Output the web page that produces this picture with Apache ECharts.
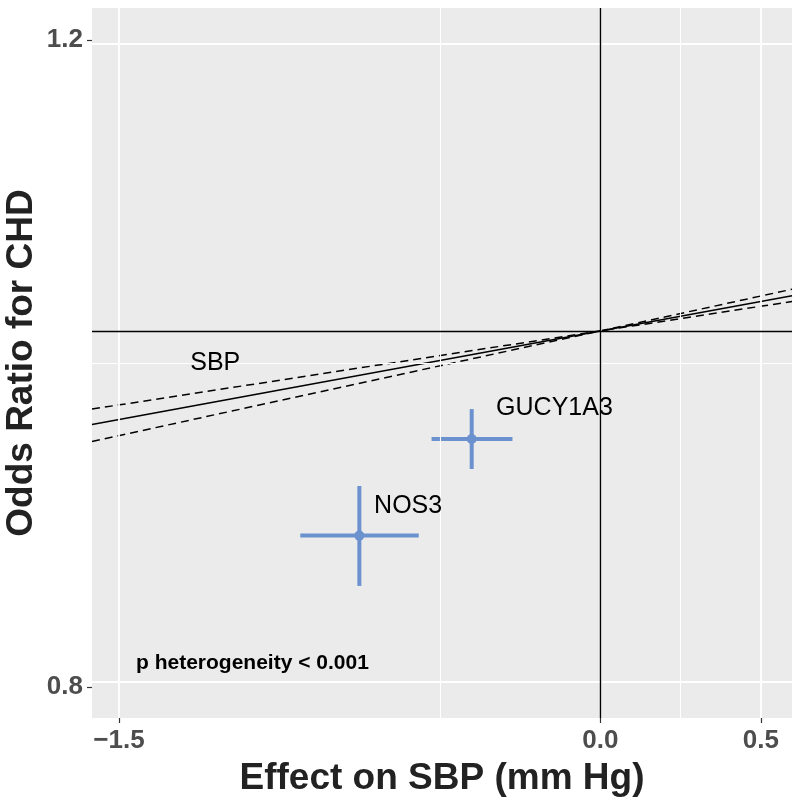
<!DOCTYPE html>
<html>
<head>
    <meta charset="utf-8">
    <title>Odds Ratio for CHD vs Effect on SBP</title>
    <script src="https://cdn.jsdelivr.net/npm/echarts@6/dist/echarts.min.js"></script>
    <style>
        html, body { margin: 0; padding: 0; background: #fff; }
        #main { width: 800px; height: 806px; }
    </style>
</head>
<body>
    <div id="main"></div>
    <script type="text/javascript">
        // gene estimates (x = effect on SBP in mm Hg, y = odds ratio)
        var geneNames = ['GUCY1A3', 'NOS3'];
        var geneSBP = [-0.401, -0.751];
        var geneSBPLow = [-0.526, -0.935];
        var geneSBPHigh = [-0.274, -0.566];
        var geneOR = [0.9345, 0.8796];
        var geneORLow = [0.9171, 0.8523];
        var geneORHigh = [0.9522, 0.9074];

        // SBP slope: odds ratio per mm Hg (estimate, lower, upper)
        var sbpORPerMmHg = [1.0377, 1.0314, 1.0447];

        // axes
        var xLimits = [-1.584, 0.597];
        var xTicks = [-1.5, 0.0, 0.5];
        var xMinorGrid = [-0.5, 0.25];
        var yLimits = [0.7846, 1.2243];
        var yTicks = [0.8, 1.2];
        var yMinorGrid = [0.9798];

        // annotations
        var noteTexts = ['SBP', 'GUCY1A3', 'NOS3', 'p heterogeneity < 0.001'];
        var noteSBP = [-1.2, -0.325, -0.705, -1.447];
        var noteOR = [0.98, 0.953, 0.896, 0.812];
        var noteAlign = ['center', 'left', 'left', 'left'];
        var noteBold = [false, false, false, true];

        var FONT = '"Liberation Sans", Arial, Helvetica, sans-serif';
        var BLUE = '#6B91CF';

        var myChart = echarts.init(document.getElementById('main'), null, { renderer: 'canvas' });

        function fmtTick(v) {
            var s = v.toFixed(1);
            return s.charAt(0) === '-' ? '\u2212' + s.slice(1) : s;
        }

        // SBP line and its CI lines go through the origin
        function slopeLine(orPerUnit) {
            var b = Math.log(orPerUnit);
            return [[xLimits[0], b * xLimits[0]], [xLimits[1], b * xLimits[1]]];
        }

        var gridLines = [];
        xTicks.forEach(function (v) { gridLines.push({ xAxis: v, lineStyle: { width: 1.8 } }); });
        xMinorGrid.forEach(function (v) { gridLines.push({ xAxis: v, lineStyle: { width: 1.1 } }); });
        yTicks.forEach(function (v) { gridLines.push({ yAxis: Math.log(v), lineStyle: { width: 1.8 } }); });
        yMinorGrid.forEach(function (v) { gridLines.push({ yAxis: Math.log(v), lineStyle: { width: 1.1 } }); });

        var geneData = geneNames.map(function (n, i) {
            return [geneSBP[i], Math.log(geneOR[i]), geneSBPLow[i], geneSBPHigh[i],
                Math.log(geneORLow[i]), Math.log(geneORHigh[i])];
        });

        var noteData = noteTexts.map(function (t, i) {
            return [noteSBP[i], Math.log(noteOR[i]), i];
        });

        var option = {
            animation: false,
            grid: {
                left: 92, right: 8, top: 8, bottom: 88,
                show: true, backgroundColor: '#EBEBEB', borderWidth: 0,
                containLabel: false,
                outerBoundsMode: 'none'
            },
            xAxis: {
                type: 'value',
                min: xLimits[0],
                max: xLimits[1],
                splitLine: { show: false },
                axisLine: { show: false, onZero: false },
                axisTick: { show: true, length: 5, customValues: xTicks, lineStyle: { color: '#333', width: 1.2 } },
                axisLabel: {
                    customValues: xTicks, margin: 10, formatter: fmtTick,
                    color: '#4D4D4D', fontSize: 26, fontWeight: 'bold', fontFamily: FONT
                },
                name: 'Effect on SBP (mm Hg)',
                nameLocation: 'middle',
                nameGap: 42,
                nameMoveOverlap: false,
                nameTextStyle: { color: '#222', fontSize: 37, fontWeight: 'bold', fontFamily: FONT }
            },
            yAxis: {
                type: 'value',
                min: Math.log(yLimits[0]),
                max: Math.log(yLimits[1]),
                splitLine: { show: false },
                axisLine: { show: false, onZero: false },
                axisTick: { show: true, length: 5, customValues: yTicks.map(Math.log), lineStyle: { color: '#333', width: 1.2 } },
                axisLabel: {
                    customValues: yTicks.map(Math.log), margin: 9,
                    formatter: function (v) { return Math.exp(v).toFixed(1); },
                    color: '#4D4D4D', fontSize: 26, fontWeight: 'bold', fontFamily: FONT
                },
                name: 'Odds Ratio for CHD',
                nameLocation: 'middle',
                nameGap: 52,
                nameRotate: 90,
                nameMoveOverlap: false,
                nameTextStyle: { color: '#222', fontSize: 37, fontWeight: 'bold', fontFamily: FONT }
            },
            series: [
                {
                    // panel grid lines
                    type: 'line',
                    data: [],
                    z: 1,
                    silent: true,
                    markLine: {
                        silent: true,
                        symbol: ['none', 'none'],
                        label: { show: false },
                        lineStyle: { color: '#FFFFFF', type: 'solid' },
                        data: gridLines
                    }
                },
                {
                    // reference lines at no effect
                    type: 'line',
                    data: [],
                    z: 2,
                    silent: true,
                    markLine: {
                        silent: true,
                        symbol: ['none', 'none'],
                        label: { show: false },
                        lineStyle: { color: '#000', type: 'solid', width: 1.4 },
                        data: [{ xAxis: 0 }, { yAxis: 0 }]
                    }
                },
                {
                    name: 'SBP', type: 'line', data: slopeLine(sbpORPerMmHg[0]),
                    showSymbol: false, z: 3, clip: true,
                    lineStyle: { color: '#000', width: 1.5 }
                },
                {
                    name: 'SBP lower', type: 'line', data: slopeLine(sbpORPerMmHg[1]),
                    showSymbol: false, z: 3, clip: true,
                    lineStyle: { color: '#000', width: 1.5, type: [8, 5] }
                },
                {
                    name: 'SBP upper', type: 'line', data: slopeLine(sbpORPerMmHg[2]),
                    showSymbol: false, z: 3, clip: true,
                    lineStyle: { color: '#000', width: 1.5, type: [8, 5] }
                },
                {
                    name: 'genes',
                    type: 'custom',
                    z: 4,
                    data: geneData,
                    renderItem: function (params, api) {
                        var c = api.coord([api.value(0), api.value(1)]);
                        var xl = api.coord([api.value(2), api.value(1)]);
                        var xh = api.coord([api.value(3), api.value(1)]);
                        var yl = api.coord([api.value(0), api.value(4)]);
                        var yh = api.coord([api.value(0), api.value(5)]);
                        var st = { stroke: BLUE, lineWidth: 4, fill: null };
                        return {
                            type: 'group',
                            children: [
                                { type: 'line', shape: { x1: xl[0], y1: xl[1], x2: xh[0], y2: xh[1] }, style: st },
                                { type: 'line', shape: { x1: yl[0], y1: yl[1], x2: yh[0], y2: yh[1] }, style: st },
                                { type: 'circle', shape: { cx: c[0], cy: c[1], r: 5 }, style: { fill: BLUE } }
                            ]
                        };
                    }
                },
                {
                    name: 'notes',
                    type: 'custom',
                    z: 5,
                    data: noteData,
                    renderItem: function (params, api) {
                        var i = api.value(2);
                        var p = api.coord([api.value(0), api.value(1)]);
                        return {
                            type: 'text',
                            style: {
                                text: noteTexts[i],
                                x: p[0], y: p[1],
                                align: noteAlign[i],
                                verticalAlign: 'middle',
                                fontFamily: FONT,
                                fontSize: noteBold[i] ? 21 : 25,
                                fontWeight: noteBold[i] ? 'bold' : 'normal',
                                fill: '#000'
                            }
                        };
                    }
                }
            ]
        };
        myChart.setOption(option);
    </script>
</body>
</html>
